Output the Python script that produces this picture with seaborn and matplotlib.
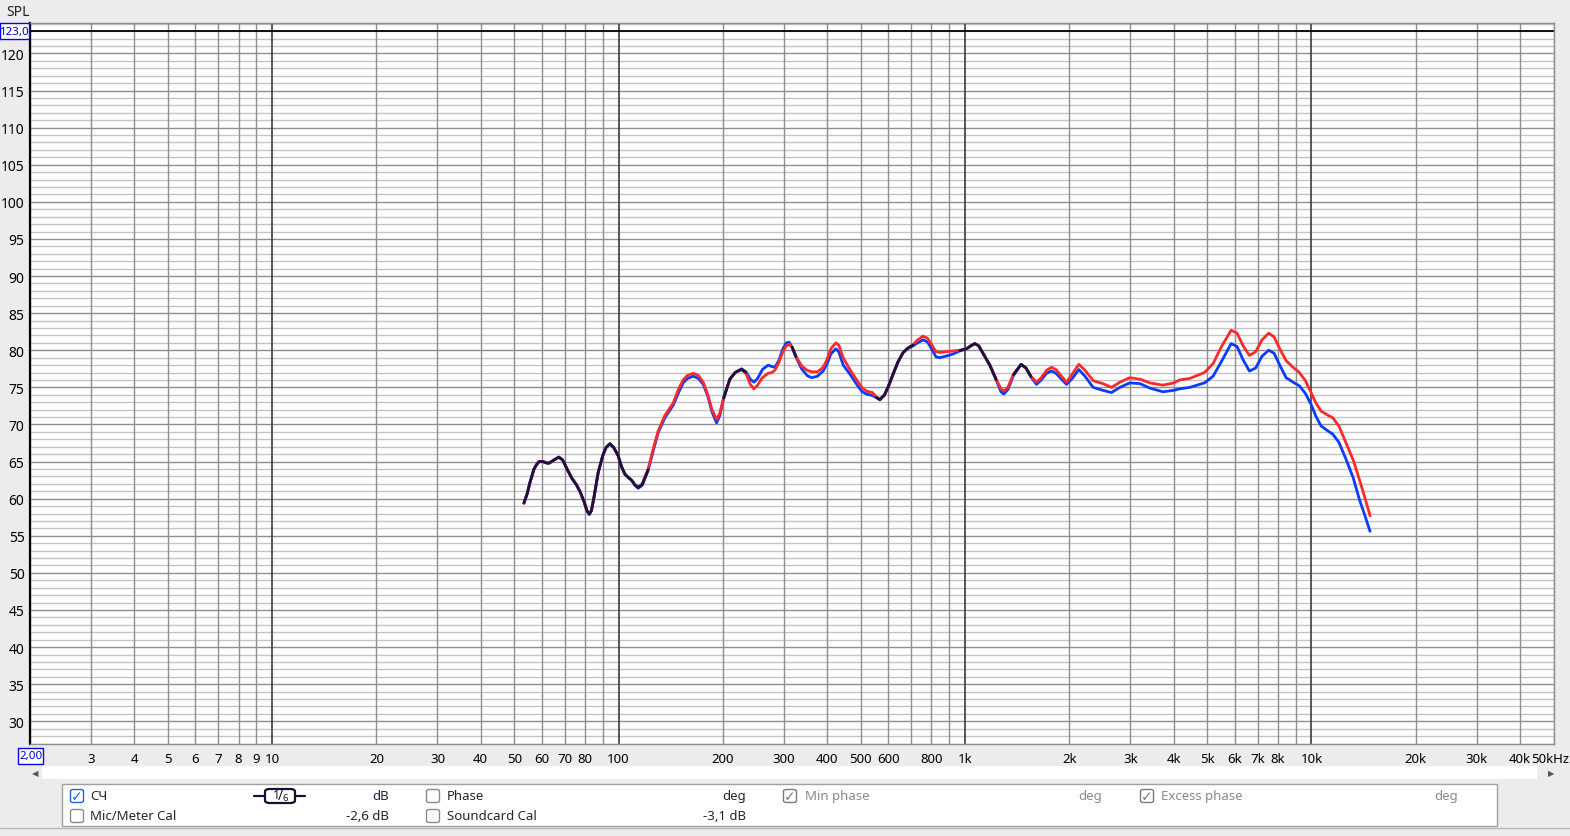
#!/usr/bin/env python3
"""
Frequency response (SPL) of two measurements, REW-style log-frequency chart.
"""

import numpy as np
import pandas as pd
import matplotlib
matplotlib.use("Agg")
import matplotlib.pyplot as plt
import matplotlib.patches as mpatches
import matplotlib.transforms as mtransforms
import seaborn as sns

freq_hz = [53.3, 54.5, 55.5, 57.0, 58.0, 59.0, 60.5, 62.0, 63.1, 65.0,
           67.2, 69.0, 71.0, 73.2, 75.5, 77.3, 79.5, 81.0, 82.3, 83.5,
           85.0, 87.3, 90.0, 92.0, 94.4, 96.8, 99.7, 102.0, 104.3, 107.0,
           109.0, 111.5, 113.9, 117.0, 121.7, 126.0, 130.1, 136.0, 143.8, 149.0,
           153.6, 158.0, 164.2, 170.0, 175.5, 181.0, 186.0, 191.8, 196.0, 201.0,
           209.5, 217.0, 226.5, 233.0, 240.0, 245.8, 252.0, 260.0, 270.3, 277.0,
           282.5, 290.0, 298.0, 305.0, 310.7, 317.0, 325.0, 337.5, 350.0, 360.6,
           375.0, 389.5, 400.0, 410.0, 423.9, 432.0, 445.0, 465.2, 490.0, 505.0,
           519.8, 540.0, 555.0, 567.8, 585.0, 600.0, 620.2, 640.0, 662.9, 685.0,
           708.5, 730.0, 757.2, 780.0, 805.0, 825.0, 845.9, 880.0, 924.0, 965.0,
           1010, 1040, 1067, 1095, 1130, 1179, 1230, 1270, 1294, 1330,
           1380, 1452, 1500, 1550, 1608, 1660, 1720, 1777, 1830, 1900,
           1963, 2040, 2130, 2220, 2343, 2500, 2648, 2800, 2990, 3200,
           3415, 3729, 4000, 4168, 4454, 4912, 5200, 5500, 5864, 6100,
           6350, 6622, 6900, 7200, 7526, 7800, 8100, 8450, 8850, 9231,
           9600, 9977, 10300, 10660, 11100, 11516, 12000, 12587, 13200, 13750,
           14250, 14762]

# red trace (dB SPL)
spl_red = [59.4, 60.7, 62.2, 64.0, 64.6, 65.0, 65.0, 64.8, 64.8, 65.2,
           65.6, 65.2, 64.0, 62.8, 61.9, 61.0, 59.6, 58.4, 57.9, 58.4,
           60.3, 63.5, 65.8, 66.9, 67.4, 66.9, 65.8, 64.3, 63.3, 62.8,
           62.5, 61.9, 61.6, 62.0, 64.0, 66.8, 69.1, 71.2, 72.9, 74.8,
           76.0, 76.6, 76.9, 76.6, 75.7, 74.0, 72.0, 70.7, 71.5, 73.6,
           76.1, 77.0, 77.4, 76.9, 75.4, 74.8, 75.3, 76.3, 76.9, 77.0,
           77.3, 78.3, 79.8, 80.6, 80.8, 80.4, 79.2, 77.9, 77.3, 77.1,
           77.1, 77.7, 78.8, 80.2, 81.0, 80.7, 79.0, 77.4, 75.8, 74.9,
           74.5, 74.3, 73.7, 73.3, 73.9, 75.0, 76.8, 78.4, 79.7, 80.3,
           80.8, 81.4, 81.9, 81.6, 80.6, 79.8, 79.7, 79.8, 79.9, 80.0,
           80.2, 80.6, 80.9, 80.6, 79.5, 78.0, 76.1, 74.8, 74.5, 75.0,
           76.8, 78.1, 77.6, 76.5, 75.7, 76.3, 77.3, 77.7, 77.4, 76.5,
           75.7, 76.8, 78.1, 77.3, 75.9, 75.5, 75.0, 75.7, 76.3, 76.1,
           75.6, 75.3, 75.6, 76.0, 76.2, 77.0, 78.2, 80.5, 82.7, 82.3,
           80.6, 79.3, 79.8, 81.4, 82.3, 81.8, 80.2, 78.6, 77.7, 77.0,
           75.9, 74.3, 72.9, 71.8, 71.3, 70.9, 69.8, 67.5, 65.2, 62.6,
           60.2, 57.7]

# blue trace (dB SPL)
spl_blue = [59.4, 60.7, 62.2, 64.0, 64.6, 65.0, 65.0, 64.8, 64.8, 65.2,
            65.6, 65.2, 64.0, 62.8, 61.9, 61.0, 59.6, 58.4, 57.9, 58.4,
            60.3, 63.5, 65.8, 66.9, 67.4, 66.9, 65.8, 64.3, 63.3, 62.8,
            62.5, 61.8, 61.4, 61.8, 63.8, 66.5, 68.9, 70.9, 72.6, 74.3,
            75.6, 76.2, 76.5, 76.2, 75.4, 73.8, 71.7, 70.2, 71.2, 73.5,
            76.1, 77.0, 77.5, 77.1, 76.1, 75.7, 76.2, 77.4, 78.0, 77.8,
            77.7, 78.6, 80.2, 81.0, 81.1, 80.4, 79.1, 77.5, 76.6, 76.3,
            76.5, 77.2, 78.2, 79.5, 80.2, 79.8, 78.0, 76.8, 75.2, 74.4,
            74.1, 73.9, 73.6, 73.4, 74.0, 75.1, 76.8, 78.4, 79.7, 80.3,
            80.6, 81.0, 81.4, 81.1, 80.0, 79.1, 79.0, 79.2, 79.5, 79.9,
            80.2, 80.6, 80.9, 80.6, 79.5, 78.0, 76.0, 74.4, 74.1, 74.7,
            76.6, 78.1, 77.6, 76.4, 75.4, 76.0, 76.9, 77.2, 76.9, 76.1,
            75.4, 76.2, 77.4, 76.5, 75.0, 74.6, 74.3, 75.0, 75.6, 75.5,
            74.9, 74.4, 74.6, 74.8, 75.0, 75.6, 76.5, 78.5, 80.9, 80.5,
            78.7, 77.2, 77.6, 79.2, 80.0, 79.6, 78.0, 76.3, 75.7, 75.2,
            74.2, 72.7, 71.1, 69.8, 69.2, 68.7, 67.6, 65.3, 62.8, 59.9,
            57.8, 55.6]

# axis labels
ytick_vals = list(range(30, 121, 5))
xtick_vals = [3, 4, 5, 6, 7, 8, 9, 10, 20, 30, 40, 50, 60, 70, 80, 100,
              200, 300, 400, 500, 600, 800, 1000, 2000, 3000, 4000, 5000,
              6000, 7000, 8000, 10000, 20000, 30000, 40000, 50000]
xtick_text = ["3", "4", "5", "6", "7", "8", "9", "10", "20", "30", "40", "50",
              "60", "70", "80", "100", "200", "300", "400", "500", "600", "800",
              "1k", "2k", "3k", "4k", "5k", "6k", "7k", "8k", "10k", "20k",
              "30k", "40k", "50kHz"]

W, H = 1570, 837
BG = "#ececec"
FS = 9.5


def fx(x):
    return x / W


def fy(y):
    return 1 - y / H


def main():
    sns.set_style("white")
    plt.rcParams["font.family"] = ["Noto Sans", "DejaVu Sans"]

    fig = plt.figure(figsize=(W / 100, H / 100), dpi=100, facecolor=BG)
    left, right, top, bottom = 30, 1553.6, 24, 745
    ax = fig.add_axes([fx(left), fy(bottom), fx(right - left), (bottom - top) / H])
    ax.set_facecolor("white")
    ax.set_xscale("log")
    ax.set_xlim(2, 50000)
    ax.set_ylim(26.94, 124.1)

    # grid: 1 dB minor, 5 dB major
    for v in range(27, 125):
        if v % 5 == 0:
            ax.axhline(v, color="#8e8e8e", lw=1.0, zorder=1)
        else:
            ax.axhline(v, color="#c4c4c4", lw=1.0, zorder=0.9)
    ax.axhline(123, color="black", lw=1.3, zorder=1.2)
    for dec in [1, 10, 100, 1000, 10000]:
        for m in range(1, 10):
            f = m * dec
            if f < 2 or f > 50000:
                continue
            if m == 1:
                ax.axvline(f, color="#3c3c3c", lw=1.2, zorder=1.1)
            else:
                ax.axvline(f, color="#8e8e8e", lw=1.0, zorder=1)

    df = pd.DataFrame({
        "freq": freq_hz * 2,
        "spl": spl_blue + spl_red,
        "trace": ["blue"] * len(freq_hz) + ["red"] * len(freq_hz),
    })
    sns.lineplot(data=df, x="freq", y="spl", hue="trace", hue_order=["blue", "red"],
                 palette={"blue": "#0a3cff", "red": "#ff2a2a"}, sort=False,
                 estimator=None, lw=2.0, legend=False, ax=ax, zorder=3,
                 solid_joinstyle="round", solid_capstyle="round")

    # where both traces coincide they render dark
    r = np.array(spl_red)
    b = np.array(spl_blue)
    dark = np.where(np.abs(r - b) < 0.25, (r + b) / 2, np.nan)
    ax.plot(freq_hz, dark, color="#1c1040", lw=2.0, zorder=4,
            solid_joinstyle="round", solid_capstyle="round")

    ax.set_xticks(xtick_vals)
    ax.set_xticklabels(xtick_text)
    ax.xaxis.set_minor_locator(matplotlib.ticker.NullLocator())
    ax.set_yticks(ytick_vals)
    ax.tick_params(axis="y", length=0, labelsize=10, colors="black", pad=4)
    ax.tick_params(axis="x", length=0, labelsize=9.5, colors="black", pad=6)
    # keep the last label inside the window
    last = ax.get_xticklabels()[-1]
    last.set_transform(last.get_transform() +
                       mtransforms.ScaledTranslation(-3 / 100, 0, fig.dpi_scale_trans))
    ax.set_xlabel("")
    ax.set_ylabel("")
    for s in ["top", "right", "bottom"]:
        ax.spines[s].set_color("#8e8e8e")
        ax.spines[s].set_linewidth(1.0)
    ax.spines["left"].set_color("black")
    ax.spines["left"].set_linewidth(1.6)

    # SPL title and limit boxes
    fig.text(fx(18), fy(13), "SPL", ha="center", va="center", fontsize=10,
             fontweight="bold")
    for (x0, y0, x1, y1, t) in [(0, 24, 29, 40, "123,0"), (18, 749, 43, 765, "2,00")]:
        fig.patches.append(mpatches.Rectangle((fx(x0), fy(y1)), fx(x1 - x0), (y1 - y0) / H,
                                              transform=fig.transFigure, fc="white",
                                              ec="#0000ff", lw=1.0))
        fig.text(fx((x0 + x1) / 2 + 0.5), fy((y0 + y1) / 2), t, ha="center", va="center",
                 fontsize=8.3, color="#0000cc")

    # scroll bar
    fig.patches.append(mpatches.Rectangle((fx(42), fy(780)), fx(1495), 13 / H,
                                          transform=fig.transFigure, fc="white", ec="none"))
    fig.text(fx(35), fy(774), "◀", ha="center", va="center", fontsize=6, color="#555555")
    fig.text(fx(1551), fy(774), "▶", ha="center", va="center", fontsize=6, color="#555555")

    # legend panel
    fig.patches.append(mpatches.Rectangle((fx(62), fy(827)), fx(1435), 42 / H,
                                          transform=fig.transFigure, fc="white",
                                          ec="#a0a0a0", lw=1.0))
    fig.lines.append(plt.Line2D([0, 1], [fy(829), fy(829)], transform=fig.transFigure,
                                color="#b8b8b8", lw=1.0))

    def checkbox(x, y, checked, col):
        fig.patches.append(mpatches.FancyBboxPatch((fx(x - 6.5), fy(y + 6.5)), fx(13), 13 / H,
                                                   boxstyle="round,pad=0,rounding_size=0.002",
                                                   transform=fig.transFigure, fc="white",
                                                   ec=col, lw=1.0))
        if checked:
            fig.text(fx(x), fy(y), "✓", ha="center", va="center", fontsize=10,
                     color=col, family="DejaVu Sans", fontweight="bold")

    row1, row2 = 797, 817
    checkbox(77, row1, True, "#1e64dc")
    fig.text(fx(90), fy(row1), "СЧ", va="center", fontsize=FS)
    checkbox(77, row2, False, "#8a8a8a")
    fig.text(fx(90), fy(row2), "Mic/Meter Cal", va="center", fontsize=FS)

    # smoothing badge 1/6
    navy = "#141432"
    fig.lines.append(plt.Line2D([fx(254), fx(305)], [fy(row1), fy(row1)],
                                transform=fig.transFigure, color=navy, lw=1.6))
    fig.patches.append(mpatches.FancyBboxPatch((fx(265), fy(row1 + 7)), fx(30), 14 / H,
                                               boxstyle="round,pad=0,rounding_size=0.003",
                                               transform=fig.transFigure, fc="white",
                                               ec=navy, lw=1.6, zorder=3))
    fig.text(fx(276), fy(row1 - 1), "1", ha="center", va="center", fontsize=9,
             color=navy, zorder=4)
    fig.text(fx(280), fy(row1), "/", ha="center", va="center", fontsize=10,
             color=navy, zorder=4)
    fig.text(fx(285), fy(row1 + 2), "6", ha="center", va="center", fontsize=7,
             color=navy, zorder=4)

    fig.text(fx(389), fy(row1), "dB", ha="right", va="center", fontsize=FS, color="#2a1a4a")
    fig.text(fx(389), fy(row2), "-2,6 dB", ha="right", va="center", fontsize=FS)

    checkbox(433, row1, False, "#8a8a8a")
    fig.text(fx(447), fy(row1), "Phase", va="center", fontsize=FS)
    checkbox(433, row2, False, "#8a8a8a")
    fig.text(fx(447), fy(row2), "Soundcard Cal", va="center", fontsize=FS)
    fig.text(fx(746), fy(row1), "deg", ha="right", va="center", fontsize=FS)
    fig.text(fx(746), fy(row2), "-3,1 dB", ha="right", va="center", fontsize=FS)

    checkbox(790, row1, True, "#7a7a7a")
    fig.text(fx(805), fy(row1), "Min phase", va="center", fontsize=FS, color="#8a8a8a")
    fig.text(fx(1102), fy(row1), "deg", ha="right", va="center", fontsize=FS, color="#8a8a8a")
    checkbox(1147, row1, True, "#7a7a7a")
    fig.text(fx(1161), fy(row1), "Excess phase", va="center", fontsize=FS, color="#8a8a8a")
    fig.text(fx(1458), fy(row1), "deg", ha="right", va="center", fontsize=FS, color="#8a8a8a")

    fig.savefig("out.png", dpi=100, facecolor=BG)


if __name__ == "__main__":
    main()
